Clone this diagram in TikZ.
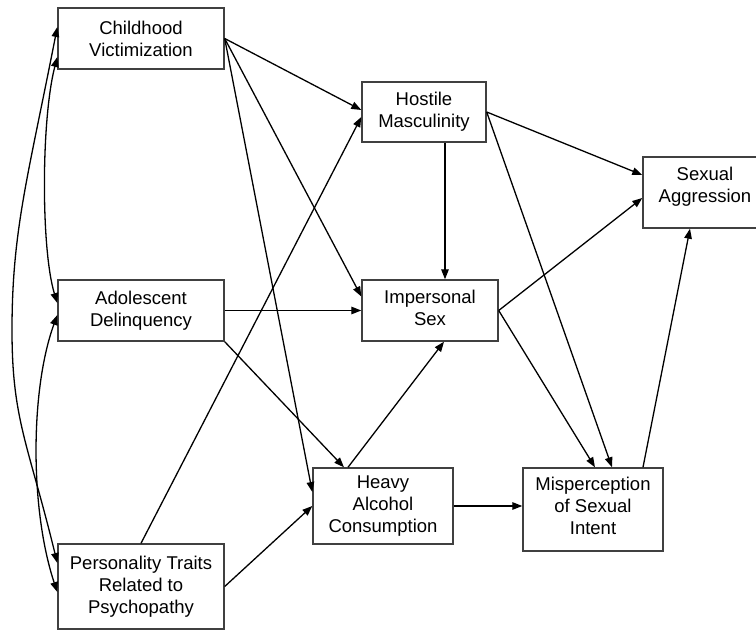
\documentclass[tikz,border=0pt]{standalone}
\usepackage{fontspec}
\setmainfont{Liberation Sans}
\usetikzlibrary{arrows.meta,calc}
\begin{document}
\begin{tikzpicture}[x=1pt,y=-1pt,
  box/.style={draw=black!75, line width=1.4pt, inner sep=0pt, align=center, font=\fontsize{18.5}{22}\selectfont},
  tip/.tip={Triangle[length=10pt,width=7.5pt]},
  conn/.style={line width=1.3pt, -tip},
  corr/.style={line width=1.3pt, tip-tip}]
\useasboundingbox (0,0) rectangle (756,631);
% boxes
\node[box, minimum width=166pt, minimum height=61pt] (cv) at (141,38.5) {Childhood\\Victimization};
\node[box, minimum width=166pt, minimum height=61pt] (ad) at (141,310.5) {Adolescent\\Delinquency};
\node[box, minimum width=166pt, minimum height=85pt] (pt) at (141,586.5) {Personality Traits\\Related to\\Psychopathy};
\node[box, minimum width=124pt, minimum height=60pt] (hm) at (424,112) {Hostile\\Masculinity};
\node[box, minimum width=136pt, minimum height=61pt, text depth=6pt] (is) at (430,310.5) {Impersonal\\Sex};
\node[box, minimum width=140pt, minimum height=76pt] (ha) at (383,506) {Heavy\\Alcohol\\Consumption};
\node[box, minimum width=140pt, minimum height=83pt, text depth=8pt] (msi) at (593,509.5) {Misperception\\of Sexual\\Intent};
\node[box, minimum width=124pt, minimum height=71pt, text depth=16pt] (sa) at (705,192.5) {Sexual\\Aggression};
% directed paths
\draw[conn] (cv.east) -- ($(hm.west)+(0,-2)$);
\draw[conn] (cv.east) -- ($(is.west)+(0,-14)$);
\draw[conn] (cv.east) -- ($(ha.west)+(0,-14)$);
\draw[conn] (ad.east) -- (is.west);
\draw[conn] (ad.south east) -- ($(ha.north)+(-39,0)$);
\draw[conn] (pt.north) -- ($(hm.west)+(0,5)$);
\draw[conn] (pt.east) -- (ha.west);
\draw[conn] ($(ha.north)+(-35,0)$) -- ($(is.south)+(14,0)$);
\draw[conn] ($(hm.south)+(21,0)$) -- ($(is.north)+(15,0)$);
\draw[conn] (hm.east) -- ($(sa.west)+(0,-17.5)$);
\draw[conn] (hm.east) -- ($(msi.north)+(19,0)$);
\draw[conn] (is.east) -- ($(sa.west)+(0,5.5)$);
\draw[conn] (is.east) -- ($(msi.north)+(2,0)$);
\draw[conn] (ha.east) -- (ha.east -| msi.west);
\draw[conn] ($(msi.north)+(50,0)$) -- ($(sa.south)+(-15,0)$);
% correlations
\draw[corr] ($(cv.west)+(0,-11.5)$) .. controls (28,177) and (12,230) .. (12,330)
  .. controls (12,420) and (28,443) .. ($(pt.west)+(0,-23.5)$);
\draw[corr] ($(cv.west)+(0,18.5)$) .. controls (41,120) and (41,250) .. ($(ad.west)+(0,-7.5)$);
\draw[corr] ($(ad.west)+(0,4.5)$) .. controls (30,390) and (30,510) .. ($(pt.west)+(0,5.5)$);
\end{tikzpicture}
\end{document}
